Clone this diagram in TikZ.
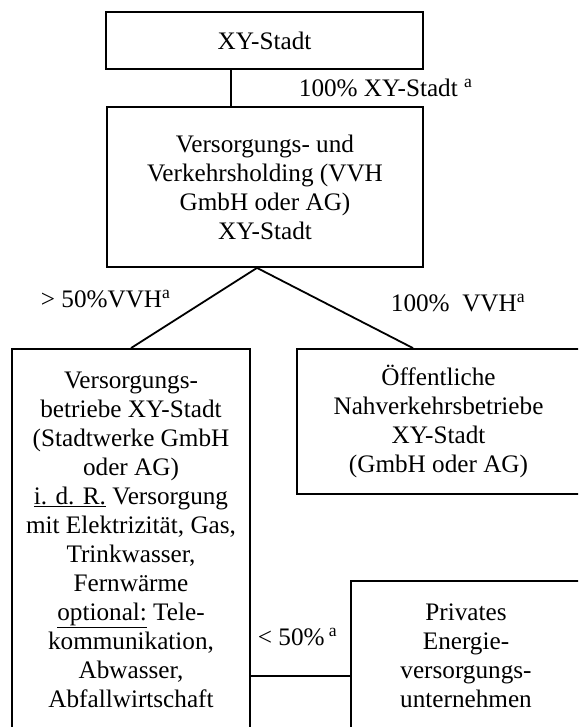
\documentclass[tikz,border=0pt]{standalone}
\usepackage{fontspec}
\setmainfont{Liberation Serif}
\usepackage{tikz}

\begin{document}
\begin{tikzpicture}[x=1pt, y=-1pt, line width=1.8pt,
box_style/.style={rectangle,draw=black,fill=white,align=center,inner sep=0pt,font=\fontsize{25.2}{29}\selectfont},
label_style/.style={anchor=west,inner sep=0pt,font=\fontsize{25.2}{29}\selectfont},
edge_style/.style={draw=black, line width=1.8pt}]
\useasboundingbox (0,0) rectangle (578,727);
\clip (0,0) rectangle (578,727);

\node[box_style, minimum width=317, minimum height=57] (stadt) at (264.5,40.5) {XY-Stadt};
\node[box_style, minimum width=316, minimum height=160] (holding) at (265,187)
  {Versorgungs- und\\Verkehrsholding (VVH\\GmbH oder AG)\\XY-Stadt};
\node[box_style, minimum width=238, minimum height=382] (stadtwerke) at (131,540)
  {Versorgungs-\\betriebe XY-Stadt\\(Stadtwerke GmbH\\oder AG)\\
   \underline{i. d. R.} Versorgung\\mit Elektrizität, Gas,\\Trinkwasser,\\Fernwärme\\
   \underline{optional:} Tele-\\kommunikation,\\Abwasser,\\Abfallwirtschaft};
\node[box_style, minimum width=283, minimum height=145] (oepnv) at (438.5,421.5)
  {Öffentliche\\Nahverkehrsbetriebe\\XY-Stadt\\(GmbH oder AG)};
\node[box_style, minimum width=230, minimum height=150] (privat) at (466,656)
  {Privates\\Energie-\\versorgungs-\\unternehmen};

\draw[edge_style] ([xshift=-33.5pt]stadt.south) -- ([xshift=-34pt]holding.north);
\draw[edge_style] ([xshift=-8pt]holding.south) -- (stadtwerke.north);
\draw[edge_style] ([xshift=-8pt]holding.south) -- ([xshift=-25.5pt]oepnv.north);
\draw[edge_style] ([yshift=-20pt]privat.west) -- ([yshift=-20pt]privat.west -| stadtwerke.east);

\node[label_style] (l_stadt) at (298,88) {100\% XY-Stadt \textsuperscript{a}};
\node[label_style] (l_mehrheit) at (40,299) {> 50\%VVH\textsuperscript{a}};
\node[label_style] (l_voll) at (390,303) {100\%\ \ VVH\textsuperscript{a}};
\node[label_style] (l_minder) at (257,637) {< 50\%\,\textsuperscript{a}};

\end{tikzpicture}
\end{document}
